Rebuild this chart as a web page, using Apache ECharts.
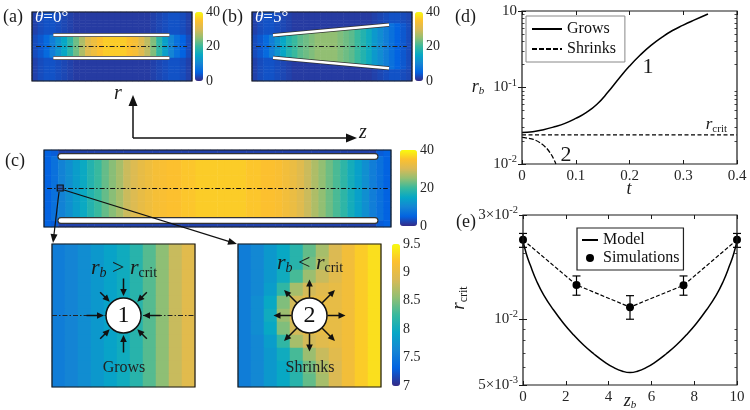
<!DOCTYPE html>
<html><head><meta charset="utf-8">
<script src="https://cdn.jsdelivr.net/npm/echarts@6/dist/echarts.min.js"></script>
<style>html,body{margin:0;padding:0;background:#fff}#c{width:750px;height:410px}</style>
</head><body><div id="c"></div><script>
// ---------------- DATA ----------------
// (a) field along z (inside channel / outside channel)
const fieldA_in  = [3,4,6,9,12,15,19,23,27,31,33,35,36,36,36,36,35,34,31,28,24,19,14,10,7,5,3];
const fieldA_out = [2,3,3.5,3.5,3,2.5,2,1.5,1.5,1.5,1.5,1.5,1.5,1.5,1.5,1.5,1.5,1.5,1.5,1.5,2,2.5,3,3.5,3.5,3,2];
// (b)
const fieldB_in  = [3,4,6,9,12,15,18,20,22,23,24,25,25,25,25,24,23,22,20,18,16,13,11,9,7,5,4,3];
const fieldB_out = [2,3,3.5,3.5,3,2.5,2,1.5,1.5,1.5,1.5,1.5,1.5,1.5,1.5,1.5,1.5,1.5,1.5,1.5,1.5,2,2.5,3,3.5,3.5,3,2.5];
// (c)
const fieldC_in  = [5,7,9.5,11.5,13.5,15.5,18,20,22.5,24.5,26.5,29,30.5,32,33,34,34.5,35,35,35.5,35.5,36,36,36,
                    36,36,36,36,35.5,35.5,35,35,34.5,33.5,32.5,31,29,27,25,23,21,19,16.5,14,11.5,9,7,5];
const fieldC_out = [5,4.5,2,2,2,2,2,2,2,2,2,2,2,2,2,2,2,2,2,2,2,2,2,2,
                    2,2,2,2,2,2,2,2,2,2,2,2,2,2,2,2,2,2,2,2,2,2,4.5,5];
// channel walls [z, r] and centre lines
const wallsA = [[[0,1],[10,1]], [[0,-1],[10,-1]]];
const wallsB = [[[0,1],[10,1.94]], [[0,-1],[10,-1.94]]];
const wallsC = [[[0.09,1],[9.91,1]], [[0.09,-1],[9.91,-1]]];
const axisLineA = [[-1.49,0],[11.53,0]];
const axisLineB = [[-1.47,0],[11.53,0]];
const axisLineC = [[-0.34,0],[10.31,0]];
const zoomBoxC = [[0.07,0]];
// insets (zoomed field, colour scale 7 - 9.5)
const insetGrows = [7.55,7.62,7.7,7.8,7.9,8.0,8.15,8.35,8.55,8.8,8.95];
const insetShrinks = [
  [7.55,7.65,7.8,7.95,8.15,8.4,8.65,8.9,9.1,9.25,9.35],
  [7.55,7.65,7.8,7.95,8.15,8.45,8.7,8.9,9.1,9.25,9.35],
  [7.55,7.65,7.8,8.0,8.3,8.6,8.8,8.95,9.1,9.25,9.35],
  [7.55,7.65,7.85,8.2,8.65,8.85,8.95,9.0,9.1,9.25,9.35],
  [7.55,7.7,7.95,8.5,8.85,9.0,9.0,9.0,9.1,9.25,9.35],
  [7.55,7.7,8.0,8.6,8.9,9.0,9.0,9.0,9.1,9.25,9.35],
  [7.55,7.7,7.95,8.5,8.85,9.0,9.0,9.0,9.1,9.25,9.35],
  [7.55,7.65,7.85,8.2,8.65,8.85,8.95,9.0,9.1,9.25,9.35],
  [7.55,7.65,7.8,8.0,8.3,8.6,8.8,8.95,9.1,9.25,9.35],
  [7.55,7.65,7.8,7.95,8.15,8.45,8.7,8.9,9.1,9.25,9.35],
  [7.55,7.65,7.8,7.95,8.15,8.4,8.65,8.9,9.1,9.25,9.35]
];
const bubbleGrows = [[0.5,0.5]];
const bubbleShrinks = [[0.5,0.5]];
const insetAxisLine = [[0,0.5],[1,0.5]];
// (d)
const tGrow = [0,0.02,0.04,0.06,0.08,0.1,0.12,0.14,0.16,0.18,0.2,0.22,0.24,0.26,0.28,0.3,0.32,0.346];
const rGrow = [0.0258,0.0264,0.0281,0.0306,0.0340,0.0394,0.0473,0.0610,0.0871,0.1303,0.1905,0.2661,0.3548,0.4519,0.5559,0.6531,0.7586,0.914];
const tShrink = [0,0.021,0.0335,0.046,0.055,0.0614,0.063];
const rShrink = [0.0223,0.0210,0.0190,0.0160,0.0131,0.0107,0.0100];
const rCrit = 0.024;
const tRange = [0,0.4];
const yTicksD = [0.01,0.1,1];
const yTickLabelsD = [['10','-2'],['10','-1'],['10','']];
const yMinorD = [0.02,0.03,0.04,0.05,0.06,0.07,0.08,0.09,0.2,0.3,0.4,0.5,0.6,0.7,0.8,0.9];
// (e)
const zModel = [0,0.15,0.34,0.65,0.97,1.43,1.9,2.37,2.83,3.3,3.8,4.25,4.65,5.0,5.35,5.75,6.2,6.7,7.17,7.63,8.1,8.57,9.03,9.35,9.66,9.85,10];
const rModel = [0.0229,0.0200,0.0177,0.01485,0.0129,0.01102,0.00957,0.00847,0.00762,0.00695,0.00638,0.0060,0.00578,0.0057,
                0.00578,0.0060,0.00638,0.00695,0.00762,0.00847,0.00957,0.01102,0.0129,0.01485,0.0177,0.0200,0.0229];
const zSim = [0,2.5,5,7.5,10];
const rSim = [0.0231,0.01435,0.01136,0.0143,0.0231];
const simLo = [0.02133,0.01288,0.0100,0.01288,0.02133];
const simHi = [0.0247,0.01578,0.01282,0.01578,0.0247];
const yTicksE = [0.005,0.01,0.03];
const yTickLabelsE = [['5×10','-3'],['10','-2'],['3×10','-2']];
const yMinorE = [0.006,0.007,0.008,0.009,0.02];

// ---------------- STYLE / LAYOUT ----------------
const SERIF = '"Liberation Serif","DejaVu Serif",serif';
const INK = '#1a1a1a';
const PARULA = ['#352A87','#0363E1','#1485D4','#06A7C6','#38B99E','#92BF73','#D9BA56','#FCC02F','#F9FB0E'];
const gA = {left:32, top:12, width:160, height:69};
const gB = {left:252, top:12, width:160, height:69};
const gC = {left:44, top:150, width:347, height:77};
const gL = {left:52, top:244, width:143, height:143};
const gR = {left:238, top:244, width:143, height:143};
const gD = {left:522, top:11, width:215, height:153};
const gE = {left:523, top:215, width:214, height:170};
const cbA = {left:195, top:12, width:8, height:69};
const cbB = {left:415, top:12, width:8, height:69};
const cbC = {left:400, top:150, width:17, height:76};
const cbI = {left:392, top:244, width:8, height:142};
const rangeA = {x:[-1.84,11.95], y:[-3,3]};
const rangeB = {x:[-1.81,11.98], y:[-3.07,3.07]};
const rangeC = {x:[-0.4375,10.41], y:[-1.226,1.195]};

const box = {show:true, borderColor:INK, borderWidth:1.2, backgroundColor:'transparent', z:10};
const grids = [gA, {...gA,...box}, gB, {...gB,...box}, gC, {...gC,...box},
  gL, {...gL,...box}, gR, {...gR,...box}, {...gD,...box}, {...gE,...box}, cbA, cbB, cbC, cbI];

const range = n => Array.from({length:n}, (_, i) => i);
const zip = (a, b) => a.map((v, i) => [v, b[i]]);
const xAxes = [], yAxes = [];
const addX = o => (xAxes.push(o), xAxes.length - 1);
const addY = o => (yAxes.push(o), yAxes.length - 1);

function buildField(inProf, outProf, nRows, rg, walls) {
  const n = inProf.length, data = [];
  const w0 = walls[0][0], w1 = walls[0][1];
  for (let i = 0; i < n; i++) {
    const z = rg.x[0] + (i + 0.5) * (rg.x[1] - rg.x[0]) / n;
    const f = Math.min(1, Math.max(0, (z - w0[0]) / (w1[0] - w0[0])));
    const hw = w0[1] + f * (w1[1] - w0[1]);
    for (let j = 0; j < nRows; j++) {
      const r = rg.y[1] - (j + 0.5) * (rg.y[1] - rg.y[0]) / nRows;
      data.push([i, j, Math.abs(r) < hw ? inProf[i] : outProf[i]]);
    }
  }
  return data;
}
function heat(gi, nCols, nRows, data) {
  const xi = addX({type:'category', gridIndex:gi, data:range(nCols), show:false});
  const yi = addY({type:'category', gridIndex:gi, data:range(nRows), show:false, inverse:true});
  return {type:'heatmap', xAxisIndex:xi, yAxisIndex:yi, data, silent:true, progressive:0,
    emphasis:{disabled:true}, itemStyle:{borderWidth:0}};
}
function overlay(gi, rg) {
  return [addX({type:'value', gridIndex:gi, min:rg.x[0], max:rg.x[1], show:false}),
          addY({type:'value', gridIndex:gi, min:rg.y[0], max:rg.y[1], show:false})];
}
function segs(ax, list, color, width, cap, type) {
  return {type:'lines', coordinateSystem:'cartesian2d', xAxisIndex:ax[0], yAxisIndex:ax[1], silent:true,
    data:list.map(s => ({coords:s})), lineStyle:{color, width, cap:cap||'butt', type:type||'solid', opacity:1, curveness:0}};
}

// heatmaps (series 0..4)
const series = [];
series.push(heat(0, fieldA_in.length, 24, buildField(fieldA_in, fieldA_out, 24, rangeA, wallsA)));
series.push(heat(2, fieldB_in.length, 24, buildField(fieldB_in, fieldB_out, 24, rangeB, wallsB)));
series.push(heat(4, fieldC_in.length, 12, buildField(fieldC_in, fieldC_out, 12, rangeC, wallsC)));
const dataL = [], dataR = [];
for (let j = 0; j < 11; j++) for (let i = 0; i < 11; i++) { dataL.push([i, j, insetGrows[i]]); dataR.push([i, j, insetShrinks[j][i]]); }
series.push(heat(6, 11, 11, dataL));
series.push(heat(8, 11, 11, dataR));

// overlays
const oA = overlay(1, rangeA), oB = overlay(3, rangeB), oC = overlay(5, rangeC);
const oL = overlay(7, {x:[0,1], y:[0,1]}), oR = overlay(9, {x:[0,1], y:[0,1]});
const dashDot = [5,2,1.5,2];
series.push(segs(oA, [axisLineA], '#222', 1, 'butt', dashDot));
series.push(segs(oA, wallsA, '#333', 4));
series.push(segs(oA, wallsA, '#fff', 2.4));
series.push(segs(oB, [axisLineB], '#222', 1, 'butt', dashDot));
series.push(segs(oB, wallsB, '#333', 4));
series.push(segs(oB, wallsB, '#fff', 2.4));
series.push(segs(oC, [axisLineC], '#111', 1.1, 'butt', dashDot));
series.push(segs(oC, wallsC, '#333', 7, 'round'));
series.push(segs(oC, wallsC, '#fff', 4.6, 'round'));
series.push({type:'scatter', xAxisIndex:oC[0], yAxisIndex:oC[1], data:zoomBoxC, symbol:'rect', symbolSize:6, silent:true,
  itemStyle:{color:'rgba(40,60,140,0.6)', borderColor:'#111', borderWidth:1.2, opacity:1}, z:4});
series.push(segs(oL, [insetAxisLine], '#222', 1, 'butt', dashDot));
const bubble = (ax, d, lab) => ({type:'scatter', xAxisIndex:ax[0], yAxisIndex:ax[1], data:d, symbolSize:35, silent:true, z:5,
  itemStyle:{color:'#ffffff', borderColor:'#111', borderWidth:1.5, opacity:1},
  label:{show:true, position:'inside', formatter:lab, fontFamily:SERIF, fontSize:24, color:'#111'}});
series.push(bubble(oL, bubbleGrows, '1'));
series.push(bubble(oR, bubbleShrinks, '2'));

// ---- panel (d)
const tickStyle = {inside:true, length:4, lineStyle:{color:INK, width:1}};
const minorTick = {inside:true, length:2.5, lineStyle:{color:INK, width:0.8}};
const lblStyle = {fontFamily:SERIF, fontSize:15, color:'#262626'};
const supRich = {b:{fontFamily:SERIF, fontSize:15, color:'#262626', lineHeight:18},
                 s:{fontFamily:SERIF, fontSize:10.5, color:'#262626', lineHeight:10, padding:[0,0,9,0]}};
function logFmt(ticks, labels) {
  return v => { const k = ticks.findIndex(t => Math.abs(Math.log10(v / t)) < 1e-3);
    if (k < 0) return ''; return '{b|' + labels[k][0] + '}' + (labels[k][1] ? '{s|' + labels[k][1] + '}' : ''); };
}
const dX = addX({type:'value', gridIndex:10, min:tRange[0], max:tRange[1], interval:0.1, axisLine:{show:false},
  axisTick:tickStyle, axisLabel:{...lblStyle, margin:5}, splitLine:{show:false}});
addX({type:'value', gridIndex:10, position:'top', min:tRange[0], max:tRange[1], interval:0.1, axisLine:{show:false},
  axisTick:tickStyle, axisLabel:{show:false}, splitLine:{show:false}});
const dY = addY({type:'log', logBase:10, gridIndex:10, min:0.01, max:1, axisLine:{show:false},
  axisTick:{...tickStyle, customValues:yTicksD}, splitLine:{show:false},
  axisLabel:{customValues:yTicksD, formatter:logFmt(yTicksD, yTickLabelsD), rich:supRich, margin:5}});
addY({type:'log', logBase:10, gridIndex:10, position:'right', min:0.01, max:1, axisLine:{show:false},
  axisTick:{...tickStyle, customValues:yTicksD}, axisLabel:{show:false}, splitLine:{show:false}});
addY({type:'log', logBase:10, gridIndex:10, position:'left', min:0.01, max:1, axisLine:{show:false},
  axisTick:{...minorTick, customValues:yMinorD}, axisLabel:{show:false}, splitLine:{show:false}});
addY({type:'log', logBase:10, gridIndex:10, position:'right', min:0.01, max:1, axisLine:{show:false},
  axisTick:{...minorTick, customValues:yMinorD}, axisLabel:{show:false}, splitLine:{show:false}});
series.push({type:'line', name:'Grows', xAxisIndex:dX, yAxisIndex:dY, data:zip(tGrow, rGrow), symbol:'none', smooth:0.5,
  lineStyle:{color:'#000', width:1.5}, itemStyle:{color:'#000'}, silent:true});
series.push({type:'line', name:'Shrinks', xAxisIndex:dX, yAxisIndex:dY, data:zip(tShrink, rShrink), symbol:'none', smooth:0.3,
  lineStyle:{color:'#000', width:1.3, type:[5,2]}, itemStyle:{color:'#000'}, silent:true});
series.push({type:'line', name:'rcrit', xAxisIndex:dX, yAxisIndex:dY, data:[[tRange[0], rCrit],[tRange[1], rCrit]], symbol:'none',
  lineStyle:{color:'#000', width:1.2, type:[4,2.5]}, silent:true});

// ---- panel (e)
const eX = addX({type:'value', gridIndex:11, min:0, max:10, interval:2, axisLine:{show:false},
  axisTick:tickStyle, axisLabel:{...lblStyle, margin:5}, splitLine:{show:false}});
addX({type:'value', gridIndex:11, position:'top', min:0, max:10, interval:2, axisLine:{show:false},
  axisTick:tickStyle, axisLabel:{show:false}, splitLine:{show:false}});
const eY = addY({type:'log', logBase:10, gridIndex:11, min:0.005, max:0.03, axisLine:{show:false},
  axisTick:{...tickStyle, customValues:yTicksE}, splitLine:{show:false},
  axisLabel:{customValues:yTicksE, formatter:logFmt(yTicksE, yTickLabelsE), rich:supRich, margin:5}});
addY({type:'log', logBase:10, gridIndex:11, position:'right', min:0.005, max:0.03, axisLine:{show:false},
  axisTick:{...tickStyle, customValues:yTicksE}, axisLabel:{show:false}, splitLine:{show:false}});
addY({type:'log', logBase:10, gridIndex:11, position:'left', min:0.005, max:0.03, axisLine:{show:false},
  axisTick:{...minorTick, customValues:yMinorE}, axisLabel:{show:false}, splitLine:{show:false}});
addY({type:'log', logBase:10, gridIndex:11, position:'right', min:0.005, max:0.03, axisLine:{show:false},
  axisTick:{...minorTick, customValues:yMinorE}, axisLabel:{show:false}, splitLine:{show:false}});
series.push({type:'line', name:'Model', xAxisIndex:eX, yAxisIndex:eY, data:zip(zModel, rModel), symbol:'none', smooth:0.5,
  lineStyle:{color:'#000', width:1.5}, itemStyle:{color:'#000'}, silent:true});
series.push({type:'line', name:'Simulations', xAxisIndex:eX, yAxisIndex:eY, data:zip(zSim, rSim), symbol:'circle', symbolSize:8,
  lineStyle:{color:'#000', width:1.2, type:[4,2]}, itemStyle:{color:'#000', opacity:1}, clip:false, silent:true, z:4});
series.push({type:'custom', name:'err', xAxisIndex:eX, yAxisIndex:eY, clip:false, silent:true, z:3,
  data:zSim.map((z, i) => [z, simLo[i], simHi[i]]), encode:{x:0, y:[1,2]},
  renderItem:(p, api) => {
    const a = api.coord([api.value(0), api.value(1)]), b = api.coord([api.value(0), api.value(2)]);
    const st = {stroke:'#000', lineWidth:1.2}, c = 4;
    return {type:'group', children:[
      {type:'line', shape:{x1:a[0], y1:a[1], x2:b[0], y2:b[1]}, style:st},
      {type:'line', shape:{x1:a[0]-c, y1:a[1], x2:a[0]+c, y2:a[1]}, style:st},
      {type:'line', shape:{x1:b[0]-c, y1:b[1], x2:b[0]+c, y2:b[1]}, style:st}]};
  }});

// colourbar label axes
function cbAxes(gi, min, max, interval) {
  addX({type:'value', gridIndex:gi, min:0, max:1, show:false});
  addY({type:'value', gridIndex:gi, position:'right', min, max, interval, axisLine:{show:false}, axisTick:{show:false},
    splitLine:{show:false}, axisLabel:{fontFamily:SERIF, fontSize:14, color:'#262626', margin:3}});
}
cbAxes(12, 0, 40, 20); cbAxes(13, 0, 40, 20); cbAxes(14, 0, 40, 20); cbAxes(15, 7, 9.5, 0.5);

// ---------------- ANNOTATIONS ----------------
const G = [];
function rich(size, color) {
  const s = Math.round(size * 0.62);
  return {
    i:{fontFamily:SERIF, fontStyle:'italic', fontSize:size, lineHeight:size + 4, fill:color, color},
    n:{fontFamily:SERIF, fontSize:size, lineHeight:size + 4, fill:color, color},
    s:{fontFamily:SERIF, fontStyle:'italic', fontSize:s, lineHeight:s, padding:[Math.round(size * 0.45),0,0,0], fill:color, color},
    c:{fontFamily:SERIF, fontSize:s, lineHeight:s, padding:[Math.round(size * 0.45),0,0,0], fill:color, color}
  };
}
function txt(x, y, text, size, opt) {
  opt = opt || {};
  const color = opt.color || INK, align = opt.align || 'center';
  G.push({type:'text', z:60, silent:true, x, y, rotation:opt.rot || 0,
    style:{text, fill:color, fontFamily:SERIF, fontSize:size, fontStyle:opt.italic ? 'italic' : 'normal',
      align, textAlign:align, verticalAlign:'middle', textVerticalAlign:'middle', rich:rich(size, color)}});
}
function arrow(x1, y1, x2, y2, hl, hw, lw) {
  const dx = x2 - x1, dy = y2 - y1, L = Math.hypot(dx, dy), ux = dx / L, uy = dy / L;
  const bx = x2 - ux * hl, by = y2 - uy * hl;
  G.push({type:'line', z:60, silent:true, shape:{x1, y1, x2:bx + ux, y2:by + uy}, style:{stroke:'#111', lineWidth:lw}});
  G.push({type:'polygon', z:60, silent:true, shape:{points:[[x2, y2],[bx - uy * hw, by + ux * hw],[bx + uy * hw, by - ux * hw]]}, style:{fill:'#111'}});
}
txt(3, 17, '(a)', 18, {align:'left'});
txt(222, 17, '(b)', 18, {align:'left'});
txt(5, 161, '(c)', 18, {align:'left'});
txt(455, 17, '(d)', 18, {align:'left'});
txt(456, 222, '(e)', 18, {align:'left'});
txt(35, 18, '{i|θ}{n|=0°}', 17, {align:'left', color:'#fff'});
txt(255, 18, '{i|θ}{n|=5°}', 17, {align:'left', color:'#fff'});
txt(118, 94, 'r', 20, {italic:true});
txt(363, 133, 'z', 20, {italic:true});
arrow(133, 138, 133, 95, 11, 4.5, 1.5);
arrow(133, 138, 357, 138, 11, 4.5, 1.5);
arrow(59, 192, 53, 243, 9, 3.5, 1.2);
arrow(64, 190, 237, 244, 9, 3.5, 1.2);
// inset texts & arrows
const cL = [gL.left + gL.width * bubbleGrows[0][0], gL.top + gL.height * (1 - bubbleGrows[0][1])];
const cR = [gR.left + gR.width * bubbleShrinks[0][0], gR.top + gR.height * (1 - bubbleShrinks[0][1])];
for (let k = 0; k < 8; k++) {
  const a = k * Math.PI / 4, ca = Math.cos(a), sa = Math.sin(a);
  const tail = k % 2 ? 33 : 37;
  arrow(cL[0] + ca * tail, cL[1] + sa * tail, cL[0] + ca * 19.5, cL[1] + sa * 19.5, 7, 3.3, 1.5);
  arrow(cR[0] + ca * 18, cR[1] + sa * 18, cR[0] + ca * 36, cR[1] + sa * 36, 7, 3.3, 1.5);
}
txt(124, 268, '{i|r}{s|b}{n| > }{i|r}{c|crit}', 22);
txt(310, 263, '{i|r}{s|b}{n| < }{i|r}{c|crit}', 22);
txt(124, 368, 'Grows', 16, {color:'#222'});
txt(310, 368, 'Shrinks', 16, {color:'#222'});
// (d) annotations
txt(478, 87, '{i|r}{s|b}', 18);
txt(629, 189, 't', 18, {italic:true});
txt(648, 67, '1', 22);
txt(566, 155, '2', 22);
txt(727, 125, '{i|r}{c|crit}', 17, {align:'right'});
// (e) annotations
txt(630, 401, '{i|z}{s|b}', 18);
txt(459, 298, '{i|r}{c|crit}', 19, {rot:Math.PI / 2});

const vmBase = {type:'continuous', calculable:false, padding:0, orient:'vertical', hoverLink:false,
  inRange:{color:PARULA}, text:null, itemSymbol:'rect'};
const hideSym = {opacity:0, borderWidth:0};
const option = {
  animation:false,
  backgroundColor:'#fff',
  grid:grids,
  xAxis:xAxes, yAxis:yAxes,
  visualMap:[
    {...vmBase, seriesIndex:0, min:0, max:40, left:cbA.left, top:cbA.top, itemWidth:cbA.width, itemHeight:cbA.height},
    {...vmBase, seriesIndex:1, min:0, max:40, left:cbB.left, top:cbB.top, itemWidth:cbB.width, itemHeight:cbB.height},
    {...vmBase, seriesIndex:2, min:0, max:40, left:cbC.left, top:cbC.top, itemWidth:cbC.width, itemHeight:cbC.height},
    {...vmBase, seriesIndex:[3,4], min:7, max:9.5, left:cbI.left, top:cbI.top, itemWidth:cbI.width, itemHeight:cbI.height}
  ],
  legend:[
    {data:[{name:'Grows', itemStyle:hideSym},{name:'Shrinks', itemStyle:hideSym}], left:526, top:16, orient:'vertical',
      itemWidth:30, itemHeight:12, itemGap:4,
      padding:[5,9,5,5], borderColor:'#888', borderWidth:1, backgroundColor:'#fff', selectedMode:false,
      textStyle:{fontFamily:SERIF, fontSize:16, color:'#111'}},
    {data:[{name:'Model', itemStyle:hideSym},{name:'Simulations', icon:'circle'}], left:577, top:228, orient:'vertical',
      itemWidth:16, itemHeight:8, itemGap:2, padding:[4,4,4,4], borderColor:'#222', borderWidth:1.2, backgroundColor:'#fff',
      selectedMode:false, textStyle:{fontFamily:SERIF, fontSize:16, color:'#111'}}
  ],
  series,
  graphic:{elements:G}
};
const chart = echarts.init(document.getElementById('c'), null, {renderer:'canvas'});
chart.setOption(option);
</script></body></html>
